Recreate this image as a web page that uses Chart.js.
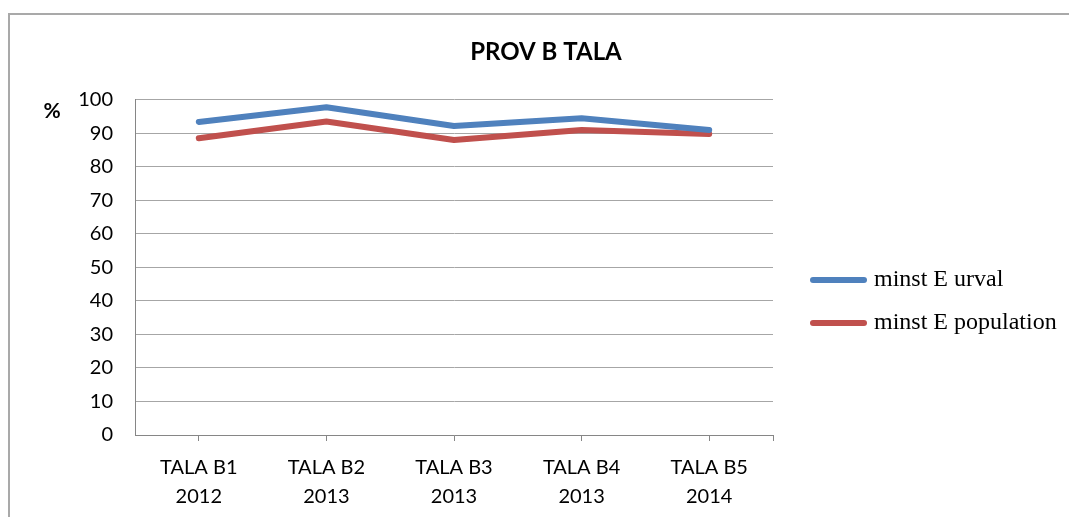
<!DOCTYPE html>
<html>
<head>
<meta charset="utf-8">
<script src="https://cdn.jsdelivr.net/npm/chart.js@4"></script>
<style>
  html, body { margin: 0; padding: 0; background: #fff; overflow: hidden; }
  #frame {
    position: absolute; left: 8px; top: 13px;
    width: 1076px; height: 520px;
    border-left: 2px solid #a9a9a9; border-top: 2px solid #a9a9a9;
  }
  #frame canvas { display: block; }
</style>
</head>
<body>
<div id="frame"><canvas id="chart" width="1076" height="516"></canvas></div>
<script>
const categories = [['TALA B1', '2012'], ['TALA B2', '2013'], ['TALA B3', '2013'], ['TALA B4', '2013'], ['TALA B5', '2014']];
const seriesNames = ['minst E urval', 'minst E population'];
const urval = [93.4, 97.8, 92.2, 94.5, 91.0];
const population = [88.5, 93.5, 88.0, 91.0, 89.8];
const seriesColors = ['#4f81bd', '#c0504d'];

// "%" at the top of the y axis, end tick of the x axis, and the legend on the right
const extras = {
    id: 'extras',
    afterDraw(chart) {
        const { ctx, chartArea } = chart;
        ctx.save();
        ctx.font = "bold 21px Lato";
        ctx.fillStyle = '#000';
        ctx.textAlign = 'center';
        ctx.textBaseline = 'middle';
        ctx.fillText('%', chartArea.left - 83, chartArea.top + 11);

        ctx.strokeStyle = '#868686';
        ctx.lineWidth = 1;
        ctx.beginPath();
        ctx.moveTo(chartArea.right + 0.5, chartArea.bottom);
        ctx.lineTo(chartArea.right + 0.5, chartArea.bottom + 6);
        ctx.stroke();

        // legend
        const spacing = 43;
        const x0 = chartArea.right + 37;
        const midY = (chartArea.top + chartArea.bottom) / 2 + 34;
        const sets = chart.data.datasets;
        ctx.font = "24px 'Liberation Serif'";
        ctx.textAlign = 'left';
        ctx.lineCap = 'round';
        sets.forEach((ds, i) => {
            const y = midY + (i - (sets.length - 1) / 2) * spacing;
            ctx.strokeStyle = ds.borderColor;
            ctx.lineWidth = 6;
            ctx.beginPath();
            ctx.moveTo(x0 + 3, y);
            ctx.lineTo(x0 + 54, y);
            ctx.stroke();
            ctx.fillStyle = '#000';
            ctx.fillText(ds.label, x0 + 64, y);
        });
        ctx.restore();
    }
};

const lineStyle = (i) => ({
    label: seriesNames[i],
    borderColor: seriesColors[i],
    backgroundColor: seriesColors[i],
    borderWidth: 6,
    borderCapStyle: 'round',
    borderJoinStyle: 'round',
    pointRadius: 0,
    tension: 0,
    fill: false
});

new Chart(document.getElementById('chart'), {
    type: 'line',
    data: {
        labels: categories,
        datasets: [
            { ...lineStyle(0), data: urval },
            { ...lineStyle(1), data: population }
        ]
    },
    plugins: [extras],
    options: {
        responsive: false,
        animation: false,
        layout: { padding: { left: 0, right: 4, top: 0, bottom: 8 } },
        scales: {
            x: {
                offset: true,
                grid: { display: true, drawOnChartArea: false, offset: false, tickLength: 6, color: '#868686' },
                border: { color: '#868686', width: 1 },
                ticks: { color: '#000', font: { family: 'Lato', size: 20, lineHeight: 1.45 }, padding: 12, maxRotation: 0 }
            },
            y: {
                min: 0,
                max: 100,
                ticks: { stepSize: 10, color: '#000', font: { family: 'Lato', size: 20 }, padding: 22 },
                grid: { color: '#a6a6a6', drawTicks: false },
                border: { color: '#868686', width: 1 },
                afterFit(scale) { scale.width = 125; }
            },
            // reserves the room the legend is drawn in
            legendRoom: {
                position: 'right',
                display: true,
                grid: { display: false },
                border: { display: false },
                ticks: { display: false },
                afterFit(scale) { scale.width = 309; }
            }
        },
        plugins: {
            title: {
                display: true,
                text: 'PROV B TALA',
                color: '#000',
                font: { family: 'Lato', size: 24, weight: 'bold' },
                padding: { top: 23, bottom: 33 }
            },
            legend: { display: false },
            tooltip: { enabled: false }
        }
    }
});
</script>
</body>
</html>
